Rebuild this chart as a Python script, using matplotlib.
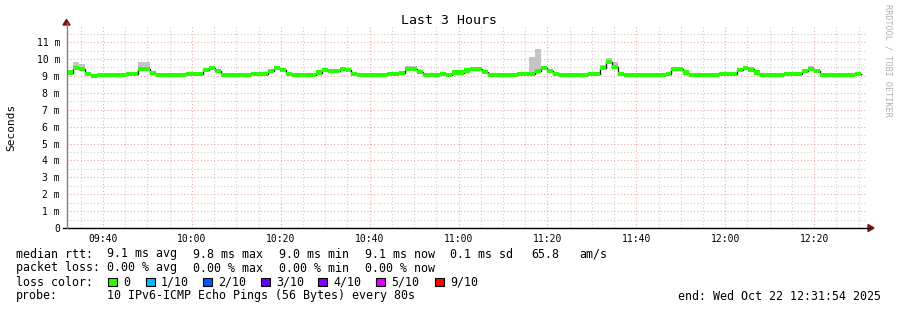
import numpy as np
import matplotlib
matplotlib.use('Agg')
import matplotlib.pyplot as plt
from matplotlib.patches import Rectangle, Polygon
from matplotlib.lines import Line2D

W, H = 897, 310
MONO = 'DejaVu Sans Mono'

# ---------------- data ----------------
title = 'Last 3 Hours'
ylabel = 'Seconds'
end_label = 'end: Wed Oct 22 12:31:54 2025'
start_min = 9 * 60 + 31 + 54 / 60.0   # 09:31:54
span_min = 180
step_s = 80

median_ms = [
    9.20, 9.45, 9.40, 9.10, 9.02, 9.05, 9.08, 9.05, 9.05, 9.08,
    9.10, 9.10, 9.40, 9.40, 9.15, 9.05, 9.05, 9.05, 9.08, 9.08,
    9.12, 9.12, 9.12, 9.33, 9.45, 9.30, 9.05, 9.05, 9.05, 9.07,
    9.08, 9.10, 9.10, 9.10, 9.28, 9.45, 9.35, 9.12, 9.05, 9.08,
    9.08, 9.05, 9.20, 9.35, 9.30, 9.30, 9.42, 9.33, 9.10, 9.08,
    9.08, 9.08, 9.08, 9.08, 9.10, 9.10, 9.18, 9.40, 9.40, 9.22,
    9.07, 9.07, 9.07, 9.10, 9.08, 9.20, 9.20, 9.32, 9.42, 9.40,
    9.22, 9.06, 9.06, 9.06, 9.06, 9.06, 9.10, 9.10, 9.10, 9.30,
    9.45, 9.30, 9.10, 9.05, 9.05, 9.05, 9.05, 9.05, 9.10, 9.10,
    9.45, 9.80, 9.55, 9.12, 9.06, 9.06, 9.06, 9.06, 9.06, 9.06,
    9.06, 9.12, 9.40, 9.40, 9.20, 9.06, 9.06, 9.06, 9.06, 9.06,
    9.12, 9.12, 9.12, 9.33, 9.45, 9.38, 9.20, 9.05, 9.05, 9.08,
    9.05, 9.10, 9.10, 9.10, 9.28, 9.42, 9.28, 9.06, 9.06, 9.08,
    9.08, 9.06, 9.06, 9.12,
]

smoke_hi_ms = [
    9.25, 9.80, 9.70, 9.12, 9.05, 9.08, 9.10, 9.08, 9.12, 9.12,
    9.12, 9.12, 9.80, 9.80, 9.18, 9.08, 9.08, 9.08, 9.10, 9.10,
    9.15, 9.15, 9.15, 9.40, 9.60, 9.35, 9.08, 9.08, 9.08, 9.12,
    9.12, 9.12, 9.12, 9.12, 9.30, 9.48, 9.38, 9.15, 9.08, 9.10,
    9.10, 9.08, 9.22, 9.38, 9.38, 9.38, 9.55, 9.36, 9.12, 9.12,
    9.12, 9.10, 9.10, 9.10, 9.12, 9.12, 9.20, 9.58, 9.58, 9.25,
    9.10, 9.10, 9.10, 9.12, 9.12, 9.25, 9.35, 9.45, 9.55, 9.45,
    9.25, 9.08, 9.12, 9.08, 9.08, 9.08, 9.12, 9.12, 10.10, 10.57,
    9.50, 9.33, 9.12, 9.08, 9.08, 9.20, 9.18, 9.08, 9.12, 9.12,
    9.65, 10.05, 9.80, 9.15, 9.10, 9.08, 9.08, 9.08, 9.08, 9.08,
    9.08, 9.15, 9.55, 9.55, 9.22, 9.10, 9.10, 9.08, 9.08, 9.08,
    9.15, 9.15, 9.15, 9.38, 9.50, 9.42, 9.22, 9.08, 9.08, 9.10,
    9.08, 9.12, 9.12, 9.12, 9.30, 9.60, 9.30, 9.08, 9.08, 9.10,
    9.10, 9.12, 9.12, 9.20,
]

ytick_vals = list(range(0, 12))
ytick_labels = ['0'] + ['%d m' % v for v in range(1, 12)]
xtick_labels = ['09:40', '10:00', '10:20', '10:40', '11:00', '11:20',
                '11:40', '12:00', '12:20']

stats_row = [('median rtt:', 16), ('9.1 ms avg', 107), ('9.8 ms max', 193),
             ('9.0 ms min', 279), ('9.1 ms now', 365), ('0.1 ms sd', 450),
             ('65.8', 531), ('am/s', 579)]
loss_row = [('packet loss:', 16), ('0.00 % avg', 107), ('0.00 % max', 193),
            ('0.00 % min', 279), ('0.00 % now', 365)]
loss_labels = ['0', '1/10', '2/10', '3/10', '4/10', '5/10', '9/10']
loss_colors = ['#26ff00', '#00b8ff', '#0059ff', '#5e00ff', '#7e00ff',
               '#dd00ff', '#ff0000']
loss_box_x = [108, 146, 203, 261, 318, 376, 435]
probe_text = '10 IPv6-ICMP Echo Pings (56 Bytes) every 80s'

# ---------------- figure ----------------
fig = plt.figure(figsize=(W / 100, H / 100), dpi=100, facecolor='white')

def fx(x):
    return x / W

def fy(y):
    return 1 - y / H

ax_left, ax_right, ax_bottom, ax_top = 67, 867, 228, 25.2
ax = fig.add_axes([fx(ax_left), fy(ax_bottom), (ax_right - ax_left) / W,
                   (ax_bottom - ax_top) / H])
ax.set_facecolor('white')

n = len(median_ms)
t_edges = start_min + np.arange(n + 1) * step_s / 60.0
med = np.array(median_ms + [median_ms[-1]])
hi = np.array(smoke_hi_ms + [smoke_hi_ms[-1]])

# smoke
ax.fill_between(t_edges, med, hi, step='post', color='#c4c4c4', lw=0, zorder=2)
# median black line
ax.step(t_edges, med, where='post', color='#202020', lw=1.0, zorder=3)
# loss-coloured band
band = 0.12
ax.fill_between(t_edges, med - band, med + band, step='post',
                color=loss_colors[0], lw=0, zorder=4)

ax.set_xlim(start_min, start_min + span_min)
ax.set_ylim(0, 12)

def hm(s):
    h, m = s.split(':')
    return int(h) * 60 + int(m)

xt = [hm(s) for s in xtick_labels]
ax.set_xticks(xt)
ax.set_xticklabels(xtick_labels, family=MONO, fontsize=7)
minor_x = np.arange(hm('09:35'), start_min + span_min, 5)
ax.set_xticks(minor_x, minor=True)
ax.set_yticks(ytick_vals)
ax.set_yticklabels(ytick_labels, family=MONO, fontsize=7)
ax.set_yticks(np.arange(0.5, 12, 0.5), minor=True)

ax.grid(which='major', color='#f08c8c', alpha=0.75, lw=0.8,
        linestyle=(0, (1, 2)), zorder=0)
ax.grid(which='minor', color='#bdbdbd', alpha=0.75, lw=0.8,
        linestyle=(0, (1, 2)), zorder=0)
ax.set_axisbelow(True)

ax.tick_params(axis='x', which='major', length=0, pad=4)
ax.tick_params(axis='y', which='major', length=0, pad=5)
ax.tick_params(axis='both', which='minor', length=0)
for s in ax.spines.values():
    s.set_visible(False)

# axis lines with arrows (figure pixel space)
arrow_col = '#7f1010'
fig.add_artist(Line2D([fx(63), fx(870)], [fy(228), fy(228)],
                      color='black', lw=1.0))
fig.add_artist(Line2D([fx(66.5), fx(66.5)], [fy(228), fy(23)],
                      color='#808080', lw=1.0))
fig.add_artist(Polygon([(fx(868), fy(224.5)), (fx(874), fy(228)),
                        (fx(868), fy(231.5))], closed=True,
                       transform=fig.transFigure, color=arrow_col))
fig.add_artist(Polygon([(fx(63), fy(25)), (fx(66.5), fy(19.5)),
                        (fx(70), fy(25))], closed=True,
                       transform=fig.transFigure, color=arrow_col))

# titles
fig.text(0.5, fy(20), title, ha='center', va='center', family=MONO,
         fontsize=9.5)
fig.text(fx(11), fy(127), ylabel, ha='center', va='center', rotation=90,
         family=MONO, fontsize=8)
fig.text(fx(888), fy(4), 'RRDTOOL / TOBI OETIKER', ha='center', va='top',
         rotation=270, family=MONO, fontsize=6.1, color='#b0b0b0')

# legend
fs = 8.4
row_y = [254, 268, 282, 296]
for txt, x in stats_row:
    fig.text(fx(x), fy(row_y[0]), txt, ha='left', va='center', family=MONO,
             fontsize=fs)
for txt, x in loss_row:
    fig.text(fx(x), fy(row_y[1]), txt, ha='left', va='center', family=MONO,
             fontsize=fs)
fig.text(fx(16), fy(row_y[2]), 'loss color:', ha='left', va='center',
         family=MONO, fontsize=fs)
box = 8.5
for lab, col, bx in zip(loss_labels, loss_colors, loss_box_x):
    fig.add_artist(Rectangle((fx(bx), fy(row_y[2] + box / 2)), box / W,
                             box / H, transform=fig.transFigure,
                             facecolor=col, edgecolor='black', lw=0.8))
    fig.text(fx(bx + 15), fy(row_y[2]), lab, ha='left', va='center',
             family=MONO, fontsize=fs)
fig.text(fx(16), fy(row_y[3]), 'probe:', ha='left', va='center',
         family=MONO, fontsize=fs)
fig.text(fx(107), fy(row_y[3]), probe_text, ha='left', va='center',
         family=MONO, fontsize=fs)
fig.text(fx(678), fy(row_y[3]), end_label, ha='left', va='center',
         family=MONO, fontsize=fs)

fig.savefig('out.png', dpi=100, facecolor='white')
